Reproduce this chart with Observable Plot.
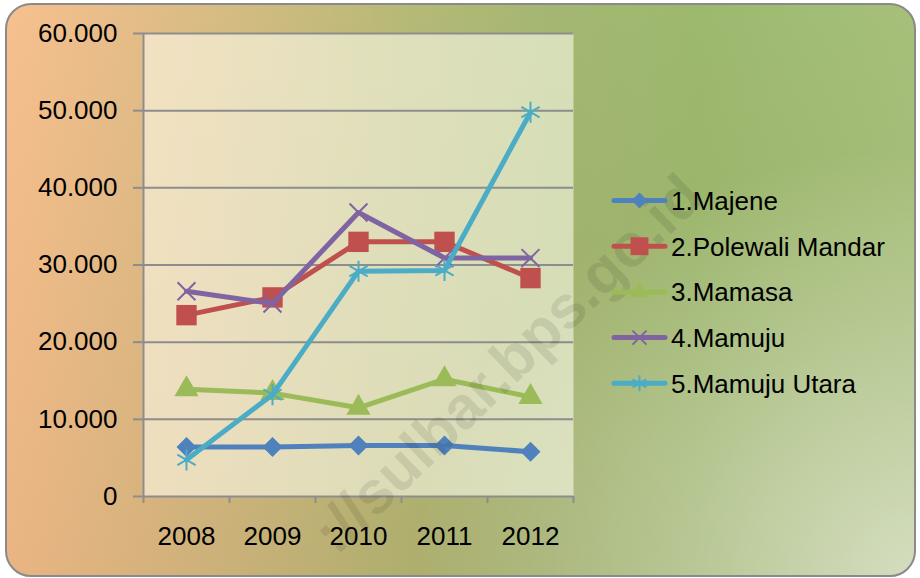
<!DOCTYPE html>
<html>
<head>
<meta charset="utf-8">
<script src="https://cdn.jsdelivr.net/npm/d3@7"></script>
<script src="https://cdn.jsdelivr.net/npm/@observablehq/plot@0.6"></script>
<style>
html, body { margin: 0; padding: 0; background: #ffffff; }
#wrap { position: relative; width: 920px; height: 578px; overflow: hidden; font-family: "Liberation Sans", Arial, sans-serif; }
#bg {
  position: absolute; left: 5px; top: 3px; width: 911px; height: 574px; box-sizing: border-box;
  border: 2.5px solid #8a8a8a; border-radius: 26px;
  background:
    radial-gradient(ellipse 55% 75% at 100% 100%, rgba(255,255,255,0.55), rgba(255,255,255,0) 100%),
    linear-gradient(to bottom, rgba(0,0,0,0) 0%, rgba(110,80,30,0.10) 100%),
    linear-gradient(to right, #F7C08E 0%, #E4BD88 14%, #CFBB81 28%, #B6B977 44%, #A4B772 60%, #9DB96E 76%, #A6C07A 100%);
}
#chart, #overlay { position: absolute; left: 0; top: 0; }
#chart svg text { fill: #000000; }
#chart g[aria-label="y-axis"] line,
#chart g[aria-label="y-axis tick"] path { stroke: #8d8d8d; stroke-width: 2; }
</style>
</head>
<body>
<div id="wrap">
  <div id="bg"></div>
  <div id="chart"></div>
  <div id="overlay"></div>
</div>
<script>
// ---- data ----
const years = [2008, 2009, 2010, 2011, 2012];
const seriesNames = ["1.Majene", "2.Polewali Mandar", "3.Mamasa", "4.Mamuju", "5.Mamuju Utara"];
const majene = [6400, 6400, 6600, 6600, 5800];
const polewaliMandar = [23500, 25800, 33000, 33000, 28300];
const mamasa = [13900, 13400, 11500, 15200, 12900];
const mamuju = [26600, 25000, 36800, 30900, 30900];
const mamujuUtara = [4750, 13200, 29200, 29300, 49800];
const yTicks = [0, 10000, 20000, 30000, 40000, 50000, 60000];
const watermarkText = "://sulbar.bps.go.id";

// ---- styles ----
const colors = ["#4F81BD", "#C0504D", "#9BBB59", "#8064A2", "#4BACC6"];
const plotSymbols = ["diamond2", "square", "triangle", "times", "asterisk"];
const symbolR = [9, 11.5, 9, 8.2, 10];
const filledSymbol = [true, true, true, false, false];

const allValues = [majene, polewaliMandar, mamasa, mamuju, mamujuUtara];
const table = [];
allValues.forEach((vals, s) => vals.forEach((v, i) => table.push({series: seriesNames[s], year: years[i], value: v})));

const boundaries = years.map(y => y - 0.5).concat([years[years.length - 1] + 0.5]);
const fmt = d => d === 0 ? "0" : d3.format(",")(d).replace(/,/g, ".");

const marks = [
  Plot.frame({fill: "#fffff0", fillOpacity: 0.56, stroke: "none"}),
  Plot.ruleY(yTicks, {stroke: "#8d8d8d", strokeWidth: 2}),
  Plot.ruleX([boundaries[0]], {stroke: "#8d8d8d", strokeWidth: 2}),
  Plot.ruleX(boundaries, {stroke: "#8d8d8d", strokeWidth: 2, insetTop: 463, insetBottom: -7})
];
seriesNames.forEach((name, s) => {
  const rows = table.filter(d => d.series === name);
  marks.push(Plot.line(rows, {x: "year", y: "value", stroke: colors[s], strokeWidth: 5, strokeLinejoin: "round", strokeLinecap: "round"}));
  if (filledSymbol[s]) {
    marks.push(Plot.dot(rows, {x: "year", y: "value", symbol: plotSymbols[s], r: symbolR[s], fill: colors[s], stroke: "none"}));
  } else {
    marks.push(Plot.dot(rows, {x: "year", y: "value", symbol: plotSymbols[s], r: symbolR[s], fill: "none", stroke: colors[s], strokeWidth: 2}));
  }
});

const chart = Plot.plot({
  width: 920,
  height: 578,
  marginLeft: 143,
  marginRight: 347,
  marginTop: 33,
  marginBottom: 82,
  style: {background: "transparent", fontFamily: "'Liberation Sans', Arial, sans-serif", fontSize: "26px", color: "#000", overflow: "visible"},
  x: {domain: [boundaries[0], boundaries[boundaries.length - 1]], ticks: years, tickFormat: d => String(d), tickSize: 0, tickPadding: 30, label: null},
  y: {domain: [0, 60000], ticks: yTicks, tickFormat: fmt, tickSize: 10, tickPadding: 16, label: null},
  marks
});
document.getElementById("chart").appendChild(chart);

// ---- overlay: watermark + legend ----
const svg = d3.select("#overlay").append("svg").attr("width", 920).attr("height", 578);

svg.append("text")
  .attr("transform", "translate(706,200) rotate(-44)")
  .attr("text-anchor", "end")
  .attr("font-family", "'Liberation Sans', Arial, sans-serif")
  .attr("font-weight", "bold")
  .attr("font-size", 60)
  .attr("fill", "rgba(0,0,0,0.09)")
  .text(watermarkText);

const d3Symbols = [d3.symbolDiamond2, d3.symbolSquare, d3.symbolTriangle, d3.symbolTimes, d3.symbolAsterisk];
const legendSizes = [160, 320, 150, 130, 180];
const legend = svg.append("g");
seriesNames.forEach((name, i) => {
  const y = 200.5 + i * 45.7;
  const g = legend.append("g").attr("transform", `translate(0,${y})`);
  g.append("line").attr("x1", 614).attr("x2", 665).attr("y1", 0).attr("y2", 0)
    .attr("stroke", colors[i]).attr("stroke-width", 5).attr("stroke-linecap", "round");
  const p = g.append("path").attr("transform", "translate(639.5,0)")
    .attr("d", d3.symbol(d3Symbols[i], legendSizes[i])());
  if (filledSymbol[i]) p.attr("fill", colors[i]);
  else p.attr("fill", "none").attr("stroke", colors[i]).attr("stroke-width", 2);
  g.append("text").attr("x", 671).attr("y", 0).attr("dy", "0.36em")
    .attr("font-family", "'Liberation Sans', Arial, sans-serif")
    .attr("font-size", 26).attr("fill", "#000").text(name);
});
</script>
</body>
</html>
